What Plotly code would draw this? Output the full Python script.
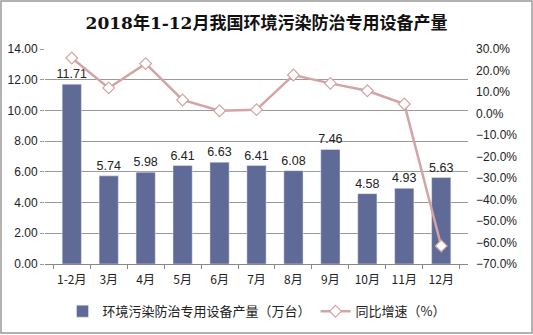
import plotly.graph_objects as go

months = ["1-2月", "3月", "4月", "5月", "6月", "7月", "8月", "9月", "10月", "11月", "12月"]
output = [11.71, 5.74, 5.98, 6.41, 6.63, 6.41, 6.08, 7.46, 4.58, 4.93, 5.63]
growth = [25.8, 11.9, 23.2, 6.3, 1.3, 1.8, 17.9, 14.0, 10.6, 4.4, -61.6]

bar_name = "环境污染防治专用设备产量（万台）"
line_name = "同比增速（%）"

cjk = "Noto Sans CJK SC"
num = "Liberation Sans"

fig = go.Figure()
fig.add_trace(go.Bar(
    x=months, y=output, name=bar_name,
    marker=dict(color="#5f6b96"),
    width=0.52,
    text=[f"{v:.2f}" for v in output], textposition="outside",
    textfont=dict(family=num, size=12.5, color="#222"),
    constraintext="none",
    cliponaxis=False,
))
fig.add_trace(go.Scatter(
    x=months, y=growth, name=line_name, yaxis="y2",
    mode="lines+markers",
    line=dict(color="#d4a3a3", width=2.5),
    marker=dict(symbol="diamond", size=9, color="white",
                line=dict(color="#d4a3a3", width=1.2)),
))

fig.update_layout(
    width=533, height=335,
    margin=dict(l=45, r=65, t=49, b=71, autoexpand=False),
    paper_bgcolor="white", plot_bgcolor="white",
    title=dict(text="<b>2018年1-12月我国环境污染防治专用设备产量</b>",
               x=0.5, xanchor="center", y=0.93, yanchor="middle",
               font=dict(family="DejaVu Serif, " + cjk, size=17, color="#111")),
    font=dict(family=cjk, size=12, color="#222"),
    showlegend=True,
    legend=dict(orientation="h", x=0.5, xanchor="center", y=-0.15, yanchor="top",
                font=dict(family=cjk, size=13, color="#222"),
                tracegroupgap=0),
    xaxis=dict(showline=True, linecolor="#888", linewidth=1,
               ticks="outside", ticklen=4, tickcolor="#888",
               tickson="boundaries", tickangle=0, automargin=False,
               ticklabelstandoff=5,
               tickfont=dict(family=cjk, size=12, color="#222"),
               showgrid=False),
    yaxis=dict(range=[0, 14], dtick=2, tickformat=".2f", automargin=False,
               showgrid=True, gridcolor="#999", gridwidth=1,
               ticks="outside", ticklen=4, tickcolor="#999",
               zeroline=False, showline=False,
               tickfont=dict(family=num, size=12, color="#222")),
    yaxis2=dict(range=[-70, 30], dtick=10, tickformat=".1f", ticksuffix="%",
                overlaying="y", side="right", showgrid=False, zeroline=False,
                showline=False, automargin=False, ticklabelstandoff=7,
                tickfont=dict(family=num, size=12, color="#222")),
    shapes=[dict(type="rect", xref="paper", yref="paper",
                 x0=-44/423, x1=487/423, y0=-69/215, y1=(215+48)/215,
                 line=dict(color="#999", width=1.5), fillcolor="rgba(0,0,0,0)")],
)

fig.write_html("out.html")
